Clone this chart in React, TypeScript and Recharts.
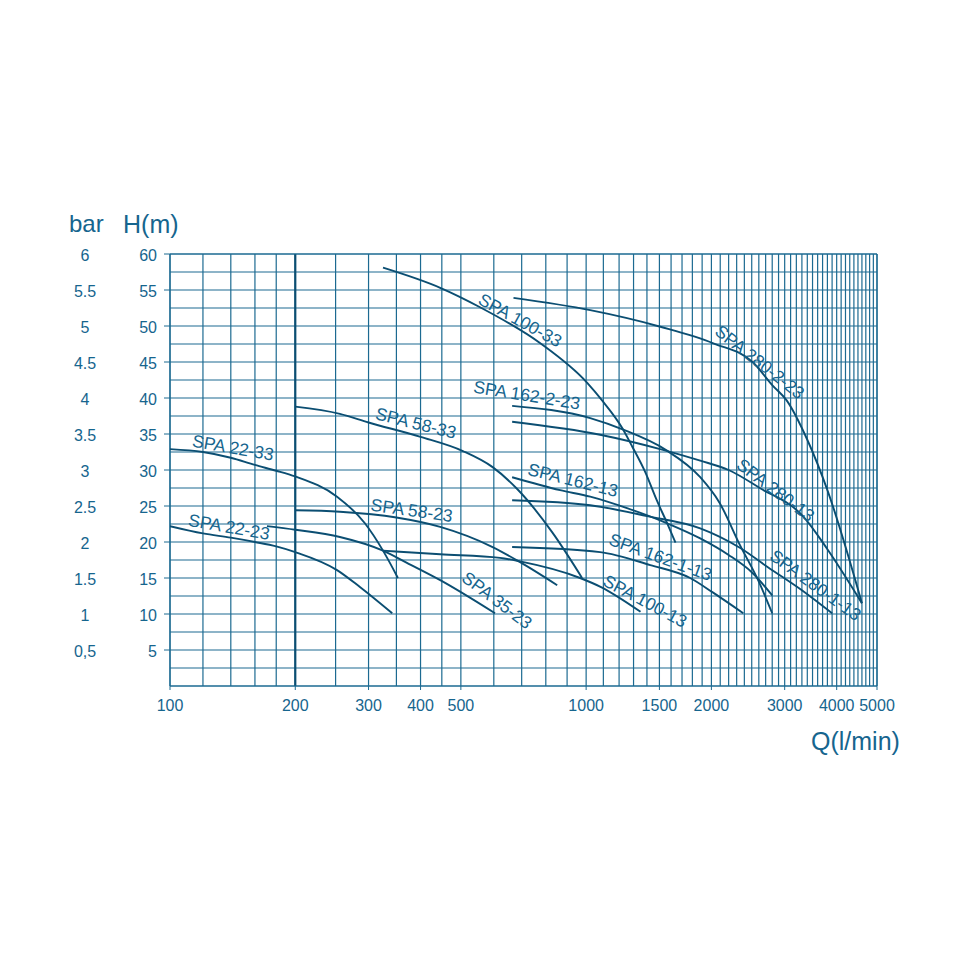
import React from "react";
import { LineChart, Line, XAxis, YAxis, CartesianGrid, ReferenceLine, ReferenceDot } from "recharts";

// ---- grid / tick values ----
const xGrid = [
  100, 120, 140, 160, 180, 200, 250, 300, 350, 400, 450, 500, 600, 700, 800, 900,
  1000, 1100, 1200, 1300, 1400, 1500, 1600, 1700, 1800, 1900, 2000, 2100, 2200, 2300, 2400,
  2500, 2600, 2700, 2800, 2900, 3000, 3100, 3200, 3300, 3400, 3500, 3600, 3700, 3800, 3900,
  4000, 4100, 4200, 4300, 4400, 4500, 4600, 4700, 4800, 4900, 5000,
];
const xLabels = [100, 200, 300, 400, 500, 1000, 1500, 2000, 3000, 4000, 5000];
const yGrid = [0, 2.5, 5, 7.5, 10, 12.5, 15, 17.5, 20, 22.5, 25, 27.5, 30, 32.5, 35, 37.5, 40, 42.5, 45, 47.5, 50, 52.5, 55, 57.5, 60];
const yLabels = [5, 10, 15, 20, 25, 30, 35, 40, 45, 50, 55, 60];
const barLabels = ["0,5", "1", "1.5", "2", "2.5", "3", "3.5", "4", "4.5", "5", "5.5", "6"];

// ---- pump curves (Q l/min, H m) ----
const spa22_33 = [
  { q: 100, h: 32.9 }, { q: 120, h: 32.5 }, { q: 140, h: 31.7 }, { q: 160, h: 30.7 },
  { q: 180, h: 29.9 }, { q: 200, h: 29.1 }, { q: 252, h: 26.3 }, { q: 294, h: 22.6 },
  { q: 325, h: 18.8 }, { q: 353, h: 15.0 },
];
const spa22_23 = [
  { q: 100, h: 22.2 }, { q: 120, h: 21.2 }, { q: 140, h: 20.6 }, { q: 160, h: 20.0 },
  { q: 180, h: 19.4 }, { q: 200, h: 18.6 }, { q: 252, h: 16.1 }, { q: 286, h: 13.75 },
  { q: 342, h: 10.1 },
];
const spa58_33 = [
  { q: 200, h: 38.8 }, { q: 256, h: 37.8 }, { q: 300, h: 36.6 }, { q: 400, h: 34.6 },
  { q: 507, h: 32.6 }, { q: 596, h: 30.4 }, { q: 682, h: 27.4 }, { q: 830, h: 21.3 },
  { q: 978, h: 15.0 },
];
const spa58_23 = [
  { q: 200, h: 24.4 }, { q: 256, h: 24.2 }, { q: 350, h: 23.4 }, { q: 446, h: 22.1 },
  { q: 596, h: 19.3 }, { q: 694, h: 17.2 }, { q: 852, h: 14.0 },
];
const spa35_23 = [
  { q: 171, h: 22.2 }, { q: 200, h: 21.7 }, { q: 256, h: 20.7 }, { q: 325, h: 18.8 },
  { q: 371, h: 17.1 }, { q: 446, h: 14.7 }, { q: 604, h: 10.1 },
];
const spa100_33 = [
  { q: 325, h: 58.1 }, { q: 446, h: 55.3 }, { q: 556, h: 52.6 }, { q: 776, h: 47.6 },
  { q: 1006, h: 42.1 }, { q: 1091, h: 39.7 }, { q: 1222, h: 35.8 }, { q: 1292, h: 33.2 },
  { q: 1387, h: 29.7 }, { q: 1478, h: 25.8 }, { q: 1566, h: 22.6 }, { q: 1640, h: 19.9 },
];
const spa100_13 = [
  { q: 325, h: 18.8 }, { q: 446, h: 18.3 }, { q: 621, h: 17.8 }, { q: 694, h: 17.3 },
  { q: 967, h: 15.0 }, { q: 1080, h: 13.8 }, { q: 1351, h: 10.3 },
];
const spa162_2_23 = [
  { q: 664, h: 38.9 }, { q: 1023, h: 37.2 }, { q: 1228, h: 35.6 }, { q: 1553, h: 32.8 },
  { q: 1880, h: 29.0 }, { q: 2090, h: 25.5 }, { q: 2341, h: 19.6 }, { q: 2600, h: 14.5 },
  { q: 2800, h: 10.1 },
];
const spa162_13 = [
  { q: 664, h: 29.0 }, { q: 866, h: 27.2 }, { q: 1023, h: 26.3 }, { q: 1254, h: 24.7 },
  { q: 1566, h: 22.6 }, { q: 1880, h: 20.5 }, { q: 2200, h: 18.2 }, { q: 2500, h: 15.8 },
  { q: 2800, h: 12.6 },
];
const spa162_1_13 = [
  { q: 664, h: 19.3 }, { q: 1080, h: 18.6 }, { q: 1426, h: 16.8 }, { q: 1778, h: 15.0 },
  { q: 2015, h: 13.0 }, { q: 2386, h: 10.1 },
];
const spa280_2_23 = [
  { q: 669, h: 53.9 }, { q: 1023, h: 52.2 }, { q: 1508, h: 49.9 }, { q: 2021, h: 47.6 },
  { q: 2523, h: 44.9 }, { q: 2800, h: 41.8 }, { q: 3030, h: 39.7 }, { q: 3400, h: 34.2 },
  { q: 3800, h: 27.2 }, { q: 4600, h: 11.5 },
];
const spa280_13 = [
  { q: 664, h: 36.7 }, { q: 1080, h: 34.9 }, { q: 1530, h: 32.8 }, { q: 1880, h: 31.3 },
  { q: 2200, h: 30.0 }, { q: 2614, h: 27.5 }, { q: 3330, h: 23.5 }, { q: 3800, h: 19.0 },
  { q: 4600, h: 11.5 },
];
const spa280_1_13 = [
  { q: 664, h: 25.8 }, { q: 1023, h: 25.1 }, { q: 1400, h: 23.6 }, { q: 1880, h: 21.9 },
  { q: 2341, h: 19.2 }, { q: 2734, h: 16.5 }, { q: 3300, h: 13.3 }, { q: 3900, h: 10.1 },
];

const curves = [
  spa22_33, spa22_23, spa58_33, spa58_23, spa35_23, spa100_33, spa100_13,
  spa162_2_23, spa162_13, spa162_1_13, spa280_2_23, spa280_13, spa280_1_13,
];

// ---- curve labels (center in Q/H, rotation) ----
const labelNames = [
  "SPA 22-33", "SPA 22-23", "SPA 58-33", "SPA 58-23", "SPA 35-23", "SPA 100-33", "SPA 100-13",
  "SPA 162-2-23", "SPA 162-13", "SPA 162-1-13", "SPA 280-2-23", "SPA 280-13", "SPA 280-1-13",
];
const labelQ = [141.7, 138.6, 390, 381, 611, 694, 1386, 720, 930, 1509, 2614, 2852, 3558];
const labelH = [33.1, 22.1, 36.5, 24.4, 11.9, 50.8, 11.8, 40.4, 28.6, 17.9, 45.0, 27.2, 14.0];
const labelAngle = [10, 10, 14, 8, 37, 29, 28, 9, 14, 20, 38, 37, 36];

const LINE = "#0b4e72";
const GRID = "#1c6a91";
const TEXT = "#16658e";
const FONT = "'Liberation Sans', Arial, sans-serif";

const XTick = (props: any) => {
  const { x, y, payload } = props;
  if (!xLabels.includes(payload.value)) return <g />;
  return (
    <g>
      <line x1={x} y1={y} x2={x} y2={y + 4} stroke={GRID} strokeWidth={1} />
      <text x={x} y={y + 25} textAnchor="middle" fill={TEXT} fontSize={16} fontFamily={FONT}>
        {payload.value}
      </text>
    </g>
  );
};

const YTick = (props: any) => {
  const { x, y, payload } = props;
  const idx = yLabels.indexOf(payload.value);
  if (idx < 0) return <g />;
  return (
    <g>
      <line x1={x - 6} y1={y} x2={x} y2={y} stroke={GRID} strokeWidth={1} />
      <text x={x - 13} y={y + 7} textAnchor="end" fill={TEXT} fontSize={16} fontFamily={FONT}>
        {payload.value}
      </text>
      <text x={x - 85} y={y + 7} textAnchor="middle" fill={TEXT} fontSize={16} fontFamily={FONT}>
        {barLabels[idx]}
      </text>
    </g>
  );
};

const makeLabel = (i: number) => (p: any) => (
  <text
    x={p.cx}
    y={p.cy}
    textAnchor="middle"
    dominantBaseline="central"
    fill={TEXT}
    fontSize={17.5}
    fontFamily={FONT}
    transform={`rotate(${labelAngle[i]} ${p.cx} ${p.cy})`}
  >
    {labelNames[i]}
  </text>
);

export default function App() {
  return (
    <div style={{ position: "absolute", left: 0, top: 0, width: 977, height: 977, background: "#fff" }}>
      <LineChart
        width={977}
        height={977}
        margin={{ top: 254, right: 100, bottom: 251, left: 110 }}
      >
        <CartesianGrid stroke={GRID} strokeWidth={1.2} />
        <XAxis
          dataKey="q"
          type="number"
          scale="log"
          domain={[100, 5000]}
          ticks={xGrid}
          interval={0}
          allowDataOverflow
          axisLine={false}
          tickLine={false}
          tickSize={0}
          tickMargin={0}
          height={40}
          tick={<XTick />}
        />
        <YAxis
          type="number"
          domain={[0, 60]}
          ticks={yGrid}
          interval={0}
          axisLine={false}
          tickLine={false}
          tickSize={0}
          tickMargin={0}
          width={60}
          tick={<YTick />}
        />
        <ReferenceLine x={200} stroke={LINE} strokeWidth={2.2} />
        <ReferenceLine x={100} stroke={GRID} strokeWidth={1.2} />
        <ReferenceLine x={5000} stroke={GRID} strokeWidth={1.2} />
        <ReferenceLine y={0} stroke={GRID} strokeWidth={1.2} />
        <ReferenceLine y={60} stroke={GRID} strokeWidth={1.2} />
        {curves.map((c, i) => (
          <Line
            key={i}
            data={c}
            dataKey="h"
            type="monotone"
            stroke={LINE}
            strokeWidth={1.9}
            dot={false}
            activeDot={false}
            isAnimationActive={false}
          />
        ))}
        {labelNames.map((n, i) => (
          <ReferenceDot key={n} x={labelQ[i]} y={labelH[i]} r={0} shape={makeLabel(i)} />
        ))}
      </LineChart>
      <div style={{ position: "absolute", left: 69, top: 209, fontFamily: FONT, fontSize: 24, color: TEXT, lineHeight: "30px" }}>bar</div>
      <div style={{ position: "absolute", left: 123, top: 209, fontFamily: FONT, fontSize: 25, color: TEXT, lineHeight: "30px" }}>H(m)</div>
      <div style={{ position: "absolute", left: 811, top: 726, fontFamily: FONT, fontSize: 25, color: TEXT, lineHeight: "30px" }}>Q(l/min)</div>
    </div>
  );
}
